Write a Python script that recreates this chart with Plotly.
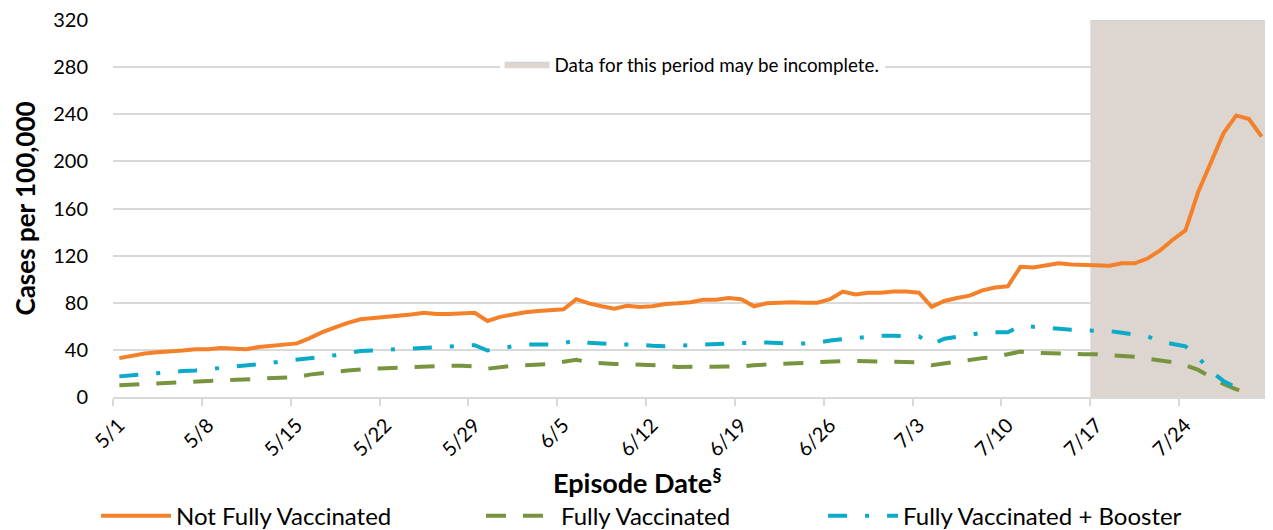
import pandas as pd
import plotly.graph_objects as go

start_date = "2022-05-01"
n_days = 91

not_fully = [33, 35, 37, 38, 38.5, 39.5, 40.5, 40.5, 41.5, 41, 40.5, 42.5, 43.5, 44, 45.5, 50, 55, 59, 63, 66,
             67, 67.5, 68.5, 70, 71.5, 70.5, 70.5, 71, 71.5, 64.5, 68, 70, 72, 73, 74, 74.5, 83, 79.5, 77, 75,
             77.5, 76.5, 77, 79, 79.5, 80.5, 82.5, 82.5, 84, 83, 77, 79.5, 80, 80.5, 80, 80, 83, 89.5, 87, 88.5,
             88.5, 89.5, 89.5, 88.5, 76.5, 81.5, 84, 86, 90.5, 93, 94, 110.5, 110, 112, 113.5, 112.5, 112, 112, 111.5, 113.5,
             113.5, 117.5, 124.5, 133.5, 141.5, 174, 200, 224, 239, 236, 221]

fully = [10, 10.5, 11, 11.5, 12, 12.5, 13, 13.5, 14, 14.5, 15, 15.5, 16, 16.5, 17, 19, 20.5, 21.5, 22.5, 23.5,
         24, 24.5, 25, 25.5, 26, 26.2, 26.5, 26.5, 26, 24, 25.5, 26.5, 27, 27.5, 28, 30, 31.5, 29.5, 28.5, 28,
         28, 27.5, 27.5, 26.5, 25.5, 25.5, 26, 26, 26, 26, 27, 27.5, 28.5, 28.5, 29, 29.5, 30, 30.5, 30.5, 30.3,
         30.3, 30, 29.8, 29.5, 27, 28.5, 30, 32, 33, 34, 36.5, 38.5, 37.5, 37, 36.8, 36.5, 36.3, 36.3, 35.5, 34.8,
         34.2, 32.5, 31, 29.5, 27, 23, 17, 11, 6.5, 3.5]

booster = [17.5, 18.5, 19.5, 20, 21, 22, 22.5, 23.5, 24.5, 25.5, 26.5, 28, 29, 30.5, 31.5, 32.5, 34, 35.5, 37.5, 39,
           39.5, 40, 40.5, 41, 42, 42, 43, 43.5, 44, 39.5, 41.5, 43, 44.5, 44.5, 44.5, 45.5, 48.5, 46, 45, 44.8,
           44.5, 44.5, 43.5, 43, 43.5, 44, 45, 45.5, 45.8, 46, 46.2, 46.2, 45.5, 45.3, 45.5, 46, 48, 49, 50.5, 51.5,
           52, 52, 51.5, 51.5, 44.5, 49.5, 51, 53, 54.5, 55, 55, 60.5, 59.5, 58.5, 57.5, 57, 56.5, 56, 56, 54.5,
           53, 51.5, 47, 45, 43, 33.5, 22, 13.5, 8, 4.5]

tick_dates = ["2022-05-01", "2022-05-08", "2022-05-15", "2022-05-22", "2022-05-29", "2022-06-05", "2022-06-12",
              "2022-06-19", "2022-06-26", "2022-07-03", "2022-07-10", "2022-07-17", "2022-07-24", "2022-07-31"]
tick_labels = ["5/1", "5/8", "5/15", "5/22", "5/29", "6/5", "6/12", "6/19", "6/26", "7/3", "7/10", "7/17", "7/24", ""]

y_ticks = [0, 40, 80, 120, 160, 200, 240, 280, 320]

shade_x = ["2022-07-17", "2022-07-31"]
shade_y = [320, 320]

days = pd.date_range(start_date, periods=n_days, freq="D")
x_mid = days + pd.Timedelta(hours=12)

FONT = "Lato"

fig = go.Figure()

fig.add_trace(go.Scatter(
    x=shade_x, y=shade_y, mode="lines", fill="tozeroy", fillcolor="#DDD5D0",
    line=dict(color="#D0D0D0", width=1), name="Data for this period may be incomplete.",
    legend="legend2", hoverinfo="skip"))

fig.add_trace(go.Scatter(x=x_mid, y=not_fully, mode="lines", name="Not Fully Vaccinated",
                         line=dict(color="#F4812A", width=4), legend="legend"))
fig.add_trace(go.Scatter(x=x_mid[:len(fully)], y=fully, mode="lines", name="Fully Vaccinated",
                         line=dict(color="#78943F", width=4, dash="20px,17px"), legend="legend3"))
fig.add_trace(go.Scatter(x=x_mid[:len(booster)], y=booster, mode="lines", name="Fully Vaccinated + Booster",
                         line=dict(color="#0BAAC8", width=4, dash="19px,18px,4px,18px"), legend="legend4"))

leg_common = dict(orientation="h", y=-0.316, yanchor="middle", xanchor="left",
                  font=dict(size=24, family=FONT), itemwidth=70, bgcolor="rgba(0,0,0,0)")

# the page body has an 8px margin, so the figure is 8px smaller and its margins 8px less
fig.update_layout(
    width=1265, height=522,
    margin=dict(l=105, r=5, t=12, b=133, autoexpand=False),
    paper_bgcolor="white", plot_bgcolor="white",
    font=dict(family=FONT, color="#000000"),
    showlegend=True,
    legend=dict(x=-0.0147, **leg_common),
    legend3=dict(x=0.3186, **leg_common),
    legend4=dict(x=0.6148, **leg_common),
    legend2=dict(orientation="h", x=0.3347, xanchor="left", y=0.882, yanchor="middle",
                 font=dict(size=18.8, family=FONT), bgcolor="white", itemwidth=45),
    annotations=[dict(text="<b>Episode Date<sup>§</sup></b>", xref="paper", yref="paper",
                      x=0.4537, y=-0.222, xanchor="center", yanchor="middle", showarrow=False,
                      font=dict(size=27, family=FONT))],
)

fig.update_xaxes(
    type="date",
    range=["2022-05-01", "2022-07-31"],
    tickmode="array", tickvals=tick_dates, ticktext=tick_labels,
    tickangle=-45, tickfont=dict(size=20, family=FONT),
    ticklabelshift=6, ticklabeloverflow="allow",
    showgrid=False, showline=True, linecolor="#D9D9D9", linewidth=1.5,
    ticks="outside", ticklen=7, tickcolor="#D9D9D9", tickwidth=1.5,
    automargin=False,
)
fig.update_yaxes(
    range=[0, 320.01], tickmode="array", tickvals=y_ticks,
    tickfont=dict(size=20, family=FONT), ticklabeloverflow="allow",
    showgrid=True, gridcolor="#D9D9D9", gridwidth=1.5,
    zeroline=False, showline=False, ticks="", ticklabelstandoff=24,
    title=dict(text="<b>Cases per 100,000</b>", font=dict(size=26, family=FONT), standoff=10),
    automargin=False,
)

fig.write_html("out.html")
